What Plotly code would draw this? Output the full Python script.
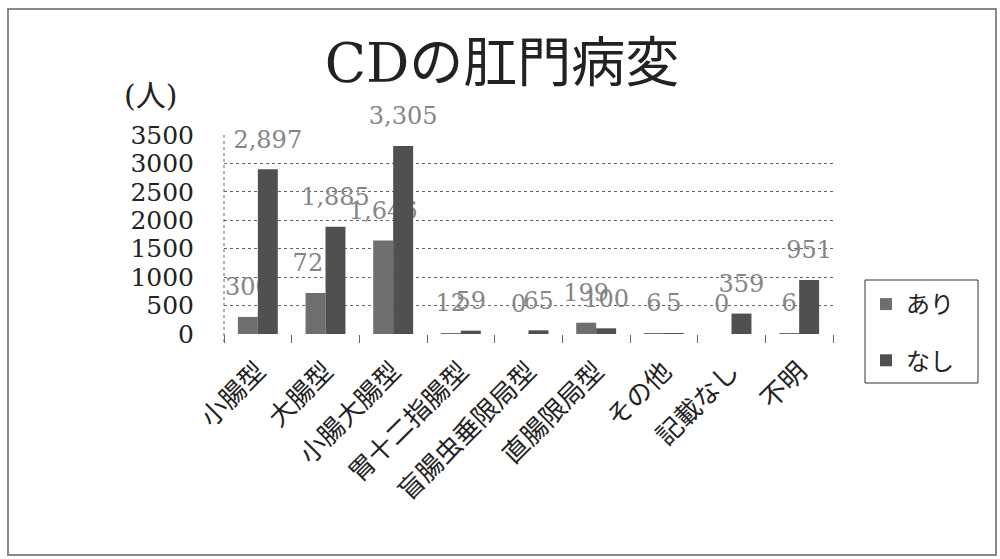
import plotly.graph_objects as go

# CD perianal lesions by disease type
categories = ["小腸型", "大腸型", "小腸大腸型", "胃十二指腸型", "盲腸虫垂限局型",
              "直腸限局型", "その他", "記載なし", "不明"]
ari = [300, 721, 1646, 12, 0, 199, 6, 0, 6]
nashi = [2897, 1885, 3305, 59, 65, 100, 5, 359, 951]
series_names = ["あり", "なし"]
y_ticks = [0, 500, 1000, 1500, 2000, 2500, 3000, 3500]

W, H = 1000, 559
L, R, T, B = 224, 167, 135, 225
pw, ph = W - L - R, H - T - B

serif = "DejaVu Serif, Noto Sans CJK JP, serif"
jp = "Noto Sans CJK JP"

fig = go.Figure()
for name, vals, color in [(series_names[0], ari, "#6e6e6e"),
                          (series_names[1], nashi, "#505050")]:
    fig.add_trace(go.Bar(
        x=categories, y=vals, name=name, legendgroup=name,
        marker=dict(color=color, line=dict(width=0)),
        # value label, lifted above the bar by a small spacer line
        texttemplate="<span style='font-size:24px'>%{y:,}</span><br> ",
        textposition="outside",
        textfont=dict(family=serif, size=12, color="#858585"),
        cliponaxis=False, constraintext="none",
    ))

fig.update_layout(
    width=W, height=H,
    margin=dict(l=L, r=R, t=T, b=B),
    paper_bgcolor="white", plot_bgcolor="white",
    barmode="group", bargap=0.41, bargroupgap=0,
    title=dict(text="CDの肛門病変", x=0.502, xanchor="center",
               y=1 - 63 / H, yanchor="middle", yref="container",
               font=dict(family=serif, size=54, color="#222")),
    legend=dict(x=(866 - L) / pw, y=(334 - 282) / ph, xanchor="left", yanchor="top",
                borderwidth=0, bgcolor="rgba(0,0,0,0)",
                font=dict(family=jp, size=24, color="#222"),
                tracegroupgap=22, itemwidth=30),
    xaxis=dict(tickangle=-45, tickson="boundaries", ticks="outside", ticklen=8,
               tickcolor="#666", showgrid=False, showline=False, zeroline=False,
               tickfont=dict(family=jp, size=26, color="#222"),
               ticklabelstandoff=16),
    yaxis=dict(range=[0, 3500], tickvals=y_ticks, ticktext=[str(v) for v in y_ticks],
               showgrid=True, gridcolor="#666", griddash="dot", gridwidth=1,
               zeroline=False, showline=False, ticks="",
               tickfont=dict(family=serif, size=25, color="#222"),
               ticklabelstandoff=29),
    showlegend=True,
)

# left axis line (dotted) extending to tick depth
fig.add_shape(type="line", xref="paper", yref="paper", x0=0, x1=0,
              y0=-8 / ph, y1=1, line=dict(color="#666", width=1, dash="dot"))
# legend frame
fig.add_shape(type="rect", xref="paper", yref="paper",
              x0=(865 - L) / pw, x1=(978 - L) / pw,
              y0=(334 - 383) / ph, y1=(334 - 280) / ph,
              line=dict(color="#333", width=1), fillcolor="rgba(0,0,0,0)")
# unit label
fig.add_annotation(text="(人)", xref="paper", yref="paper",
                   x=(150 - L) / pw, y=(334 - 96) / ph, showarrow=False,
                   xanchor="center", yanchor="middle",
                   font=dict(family=serif, size=30, color="#222"))
# outer chart frame
fig.add_shape(type="rect", xref="paper", yref="paper",
              x0=(8 - L) / pw, x1=(996 - L) / pw,
              y0=(334 - 555) / ph, y1=(334 - 9) / ph,
              line=dict(color="#888", width=2), fillcolor="rgba(0,0,0,0)")

fig.write_html("out.html")
